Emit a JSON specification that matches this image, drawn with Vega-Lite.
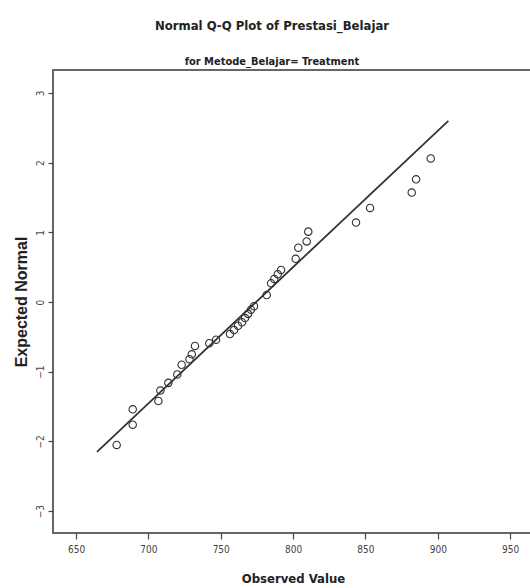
{
  "$schema": "https://vega.github.io/schema/vega-lite/v6.json",
  "autosize": "none",
  "padding": {"left": 53, "top": 70, "right": 0, "bottom": 55},
  "width": 490,
  "height": 463,
  "background": "white",
  "title": {
    "text": "Normal Q-Q Plot of Prestasi_Belajar",
    "subtitle": "for Metode_Belajar= Treatment",
    "anchor": "middle",
    "frame": "group",
    "dx": -26,
    "offset": 3,
    "font": "'Liberation Sans Narrow', 'DejaVu Sans Condensed', 'Liberation Sans', sans-serif",
    "fontSize": 13,
    "fontWeight": "bold",
    "color": "#222",
    "subtitleFont": "'Liberation Sans Narrow', 'DejaVu Sans Condensed', 'Liberation Sans', sans-serif",
    "subtitleFontSize": 11,
    "subtitleFontWeight": "bold",
    "subtitleColor": "#222",
    "subtitlePadding": 23
  },
  "config": {
    "view": {"stroke": "#666", "strokeWidth": 2},
    "axis": {"grid": false, "domain": false}
  },
  "datasets": {
    "points": [
      {"observed": 678.1, "expected": -2.05},
      {"observed": 689.2, "expected": -1.76},
      {"observed": 689.2, "expected": -1.54},
      {"observed": 706.9, "expected": -1.42},
      {"observed": 708.3, "expected": -1.27},
      {"observed": 713.8, "expected": -1.16},
      {"observed": 720.0, "expected": -1.04},
      {"observed": 723.0, "expected": -0.90},
      {"observed": 728.4, "expected": -0.82},
      {"observed": 730.0, "expected": -0.75},
      {"observed": 732.2, "expected": -0.63},
      {"observed": 742.1, "expected": -0.59},
      {"observed": 746.8, "expected": -0.54},
      {"observed": 756.4, "expected": -0.46},
      {"observed": 759.2, "expected": -0.40},
      {"observed": 762.0, "expected": -0.34},
      {"observed": 764.7, "expected": -0.29},
      {"observed": 766.8, "expected": -0.23},
      {"observed": 768.9, "expected": -0.17},
      {"observed": 770.9, "expected": -0.11},
      {"observed": 773.0, "expected": -0.06},
      {"observed": 781.8, "expected": 0.10},
      {"observed": 784.8, "expected": 0.27},
      {"observed": 787.0, "expected": 0.33},
      {"observed": 789.4, "expected": 0.40},
      {"observed": 791.7, "expected": 0.46},
      {"observed": 801.8, "expected": 0.62},
      {"observed": 803.6, "expected": 0.78},
      {"observed": 809.4, "expected": 0.87},
      {"observed": 810.5, "expected": 1.01},
      {"observed": 843.5, "expected": 1.14},
      {"observed": 853.2, "expected": 1.35},
      {"observed": 882.0, "expected": 1.57},
      {"observed": 885.0, "expected": 1.76},
      {"observed": 895.1, "expected": 2.06}
    ],
    "line": [
      {"observed": 664.5, "expected": -2.15},
      {"observed": 907.3, "expected": 2.60}
    ]
  },
  "layer": [
    {
      "data": {"name": "line"},
      "mark": {"type": "line", "color": "#333", "strokeWidth": 1.8},
      "encoding": {
        "x": {"field": "observed", "type": "quantitative"},
        "y": {"field": "expected", "type": "quantitative"}
      }
    },
    {
      "data": {"name": "points"},
      "mark": {"type": "point", "shape": "circle", "filled": false, "size": 55, "stroke": "#333", "strokeWidth": 1.1, "opacity": 1},
      "encoding": {
        "x": {
          "field": "observed",
          "type": "quantitative",
          "scale": {"domain": [634.1, 972.7], "nice": false, "zero": false},
          "axis": {
            "values": [650, 700, 750, 800, 850, 900, 950],
            "format": "d",
            "title": "Observed Value",
            "titleFont": "'Liberation Sans Narrow', 'DejaVu Sans Condensed', 'Liberation Sans', sans-serif",
            "titleFontSize": 13,
            "titleFontWeight": "bold",
            "titleColor": "#222",
            "titleX": 240,
            "titleAlign": "center",
            "titlePadding": 18,
            "tickSize": 6,
            "tickColor": "#444",
            "tickWidth": 1.2,
            "labelFont": "'Liberation Sans Narrow', 'DejaVu Sans Condensed', 'Liberation Sans', sans-serif",
            "labelFontSize": 10,
            "labelColor": "#444",
            "labelPadding": 5
          }
        },
        "y": {
          "field": "expected",
          "type": "quantitative",
          "scale": {"domain": [-3.314, 3.329], "nice": false, "zero": false},
          "axis": {
            "values": [-3, -2, -1, 0, 1, 2, 3],
            "format": "d",
            "title": "Expected Normal",
            "titleFont": "Liberation Sans",
            "titleFontSize": 16,
            "titleFontWeight": "bold",
            "titleColor": "#222",
            "titlePadding": 6,
            "tickSize": 5,
            "tickColor": "#444",
            "tickWidth": 1.2,
            "labelFont": "'Liberation Sans Narrow', 'DejaVu Sans Condensed', 'Liberation Sans', sans-serif",
            "labelFontSize": 10,
            "labelColor": "#444",
            "labelAngle": 270,
            "labelAlign": "center",
            "labelBaseline": "bottom",
            "labelPadding": 3
          }
        }
      }
    }
  ]
}
